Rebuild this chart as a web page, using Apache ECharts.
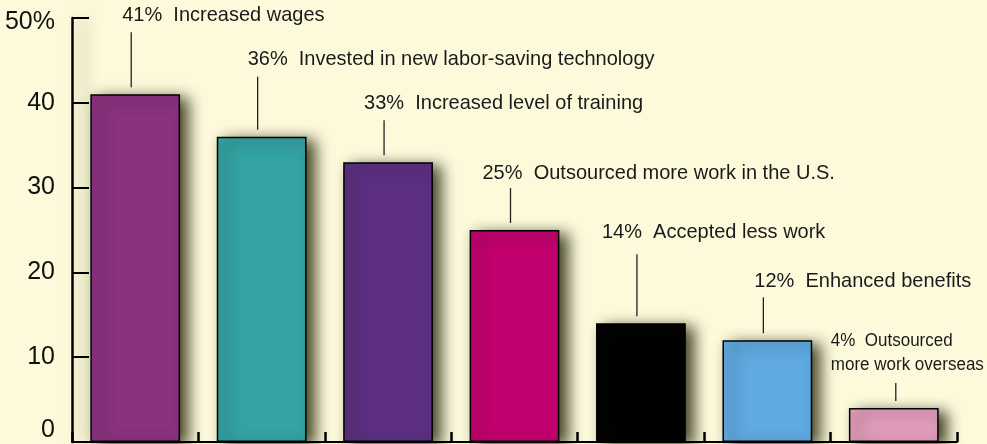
<!DOCTYPE html>
<html>
<head>
<meta charset="utf-8">
<script src="https://cdn.jsdelivr.net/npm/echarts@6/dist/echarts.min.js"></script>
<style>
  html, body { margin: 0; padding: 0; background: #fdfadc; }
  #chart { width: 987px; height: 444px; }
</style>
</head>
<body>
<div id="chart"></div>
<script>
// data
const categories = ['Increased wages', 'Invested in new labor-saving technology', 'Increased level of training',
  'Outsourced more work in the U.S.', 'Accepted less work', 'Enhanced benefits', 'Outsourced\nmore work overseas']
const values = [41, 36, 33, 25, 14, 12, 4]
const yTicks = [0, 10, 20, 30, 40, 50]

// look
const barColors = ['#8a3180', '#33a3a5', '#5c2f82', '#c2006f', '#000000', '#5faae2', '#e29dbd']
const leaderLen = [55, 53, 35, 35, 62, 36, 18]
const textDx = [-9, -10, -20, -28, -35, -9, -65]
const textGap = [17, 17, 17, 15, 22, 16, 17]
const font = "'Liberation Sans', Arial, sans-serif"

const chart = echarts.init(document.getElementById('chart'), null, { renderer: 'canvas' })

const labelData = values.map((v, i) => [i, v])

const renderLabel = function(params, api) {
  const i = params.dataIndex
  const top = api.coord([i, api.value(1)])
  const x = top[0] - 4 + (i === 6 ? 6 : 0)
  const y1 = top[1] - 7
  const y0 = y1 - leaderLen[i]
  const small = i === 6
  const text = values[i] + '%  ' + categories[i]
  return {
    type: 'group',
    children: [
      { type: 'line', shape: { x1: x, y1: y0, x2: x, y2: y1 }, style: { stroke: '#222', lineWidth: 1.3 } },
      {
        type: 'text',
        x: x + textDx[i],
        y: small ? y0 - 5 : y0 - textGap[i],
        scaleY: 1.04,
        style: {
          text: text,
          font: (small ? '17px ' : '20px ') + font,
          fill: '#1a1a1a',
          textAlign: 'left',
          textVerticalAlign: small ? 'bottom' : 'middle',
          lineHeight: small ? 24 : 20
        }
      }
    ]
  }
}

chart.setOption({
  backgroundColor: '#fdfadc',
  animation: false,
  grid: { left: 72, right: 30, top: 18, bottom: 2, containLabel: false },
  xAxis: {
    type: 'category',
    data: categories,
    z: 4,
    axisLine: { lineStyle: { color: '#000', width: 2 } },
    axisTick: { show: true, inside: true, interval: 0, length: 10, lineStyle: { color: '#000', width: 2.5 } },
    axisLabel: { show: false, interval: 0 },
    splitLine: { show: false }
  },
  yAxis: {
    type: 'value',
    min: yTicks[0],
    max: yTicks[yTicks.length - 1],
    interval: 10,
    axisLine: {
      show: true,
      lineStyle: { color: '#000', width: 2.5, shadowColor: 'rgba(60,60,20,0.5)', shadowBlur: 16, shadowOffsetX: 10 }
    },
    axisTick: { show: true, inside: true, length: 17, lineStyle: { color: '#000', width: 2 } },
    splitLine: { show: false },
    axisLabel: {
      margin: 17,
      color: '#111',
      fontFamily: font,
      fontSize: 25,
      formatter: function(v) {
        if (v === 50) return '{top|50%}'
        if (v === 0) return '{bot|0}'
        return String(v)
      },
      rich: {
        top: { fontFamily: font, fontSize: 25, color: '#111', padding: [8, 0, 0, 0] },
        bot: { fontFamily: font, fontSize: 25, color: '#111', padding: [0, 0, 24, 0] }
      }
    }
  },
  series: [
    {
      type: 'bar',
      data: values.map((v, i) => ({ value: v, itemStyle: { color: barColors[i] } })),
      barWidth: '71%',
      itemStyle: {
        borderColor: '#000',
        borderWidth: 1.5,
        shadowColor: 'rgba(30,30,0,0.85)',
        shadowBlur: 14,
        shadowOffsetX: 8,
        shadowOffsetY: 4
      },
      z: 3
    },
    {
      type: 'custom',
      data: labelData,
      renderItem: renderLabel,
      silent: true,
      z: 5
    }
  ]
})
</script>
</body>
</html>
